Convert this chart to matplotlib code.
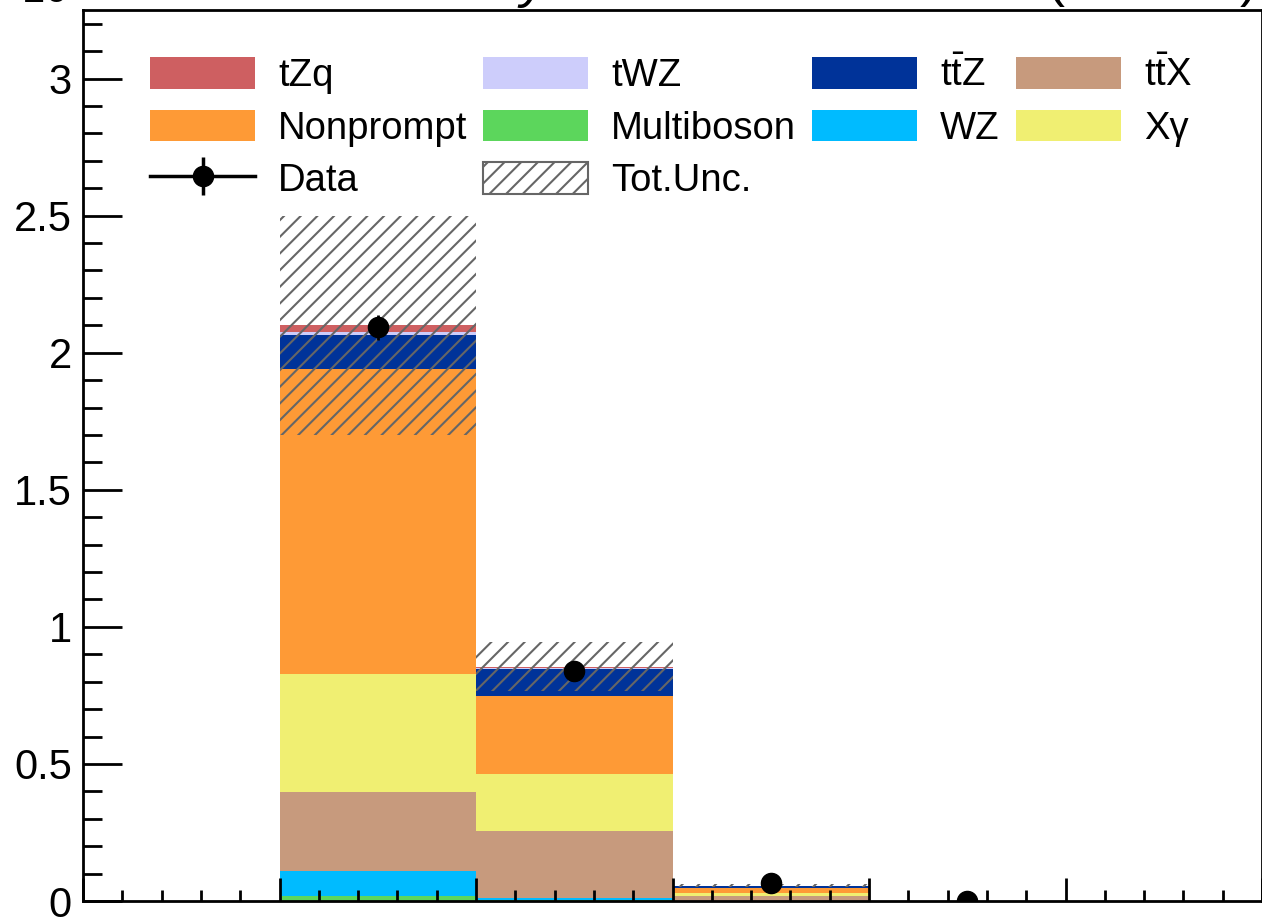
import numpy as np
import matplotlib
matplotlib.use("Agg")
from matplotlib import pyplot as plt
from matplotlib.patches import Patch
from matplotlib.ticker import MultipleLocator, NullFormatter

plt.rcParams['font.family'] = ['Liberation Sans', 'DejaVu Sans']
plt.rcParams['mathtext.fontset'] = 'custom'
plt.rcParams['mathtext.rm'] = 'Liberation Sans'
plt.rcParams['mathtext.it'] = 'Liberation Sans:italic'
plt.rcParams['hatch.linewidth'] = 1.5

# bins 0..6, values in units of 10^3 events
edges = np.arange(0, 7)
multiboson = [0, 0.018, 0.002, 0.0005, 0, 0]
wz = [0, 0.091, 0.010, 0.001, 0, 0]
ttx = [0, 0.288, 0.243, 0.018, 0, 0]
xgamma = [0, 0.431, 0.208, 0.009, 0.001, 0]
nonprompt = [0, 1.112, 0.284, 0.020, 0, 0]
ttz = [0, 0.124, 0.098, 0.006, 0, 0]
twz = [0, 0.011, 0.004, 0.0005, 0, 0]
tzq = [0, 0.025, 0.006, 0.001, 0, 0]
tot_unc = [0, 0.40, 0.088, 0.005, 0.0005, 0]
data = [0, 2.093, 0.838, 0.066, 0.001, 0]

stack = [
    ("Multiboson", multiboson, "#5cd65c"),
    ("WZ", wz, "#00bbff"),
    (r"t$\bar{\mathrm{t}}$X", ttx, "#c79a7d"),
    ("Xγ", xgamma, "#f0ef72"),
    ("Nonprompt", nonprompt, "#fe9a36"),
    (r"t$\bar{\mathrm{t}}$Z", ttz, "#003399"),
    ("tWZ", twz, "#cdcdfb"),
    ("tZq", tzq, "#ce5f61"),
]

fig = plt.figure(figsize=(12.62, 9.21), dpi=100)
ax = fig.add_axes([83 / 1262, 20 / 921, 1 - 83 / 1262, 891 / 921])

left = edges[:-1]
bottom = np.zeros(len(left))
handles = {}
for name, vals, col in stack:
    vals = np.array(vals)
    b = ax.bar(left, vals, width=1, bottom=bottom, align='edge',
               color=col, linewidth=0, label=name)
    handles[name] = b
    bottom = bottom + vals

total = bottom
unc = np.array(tot_unc)
ax.bar(left, 2 * unc, width=1, bottom=total - unc, align='edge',
       fill=False, hatch='//', edgecolor='#666666', linewidth=0, zorder=3)
handles["Tot.Unc."] = Patch(facecolor='white', edgecolor='#666666',
                            hatch='//', linewidth=1.5)

data = np.array(data)
centers = left + 0.5
m = data > 0
ax.errorbar(centers[m], data[m], yerr=np.sqrt(data[m] * 1000) / 1000,
            fmt='o', color='black', ms=14.5, elinewidth=2, capsize=0, zorder=4)
dh = ax.errorbar([], [], yerr=[], fmt='-o', color='black', ms=14.5,
                 lw=2.5, elinewidth=2.5, capsize=0)
handles["Data"] = dh

ax.set_xlim(0, 6)
ax.set_ylim(0, 3.25)
ax.xaxis.set_major_locator(MultipleLocator(1))
ax.xaxis.set_minor_locator(MultipleLocator(0.2))
ax.yaxis.set_major_locator(MultipleLocator(0.5))
ax.yaxis.set_minor_locator(MultipleLocator(0.1))
ax.xaxis.set_major_formatter(NullFormatter())
ax.yaxis.set_major_formatter(matplotlib.ticker.FuncFormatter(
    lambda v, p: ('%g' % v)))
ax.tick_params(axis='y', which='major', direction='in', length=28, width=2,
               labelsize=30, pad=8)
ax.tick_params(axis='y', which='minor', direction='in', length=14, width=2)
ax.tick_params(axis='x', which='major', direction='in', length=16.5, width=2)
ax.tick_params(axis='x', which='minor', direction='in', length=8, width=2)
for s in ax.spines.values():
    s.set_linewidth(2)

order = ["tZq", "Nonprompt", "Data", "tWZ", "Multiboson", "Tot.Unc.",
         r"t$\bar{\mathrm{t}}$Z", "WZ", r"t$\bar{\mathrm{t}}$X", "Xγ"]
ax.legend([handles[k] for k in order], order, ncol=4, frameon=False,
          loc='upper left', bbox_to_anchor=(150 / 1262, 1 - 57 / 921),
          bbox_transform=fig.transFigure, fontsize=27.5, borderpad=0,
          borderaxespad=0, handlelength=2.75, handleheight=0.9,
          handletextpad=0.6, columnspacing=0.42, labelspacing=0.4)

fig.text(-3 / 1262, 1 - 3 / 921, r"×10$^{3}$", fontsize=30, ha='left',
         va='baseline')
fig.text(140 / 1262, 1 + 3 / 921, "CMS", fontsize=39, fontweight='bold',
         ha='left', va='baseline')
fig.text(548 / 1262, 1 + 3 / 921, "Preliminary", fontsize=39,
         fontstyle='italic', ha='right', va='baseline')
fig.text(1256 / 1262, 1 + 3 / 921, r"138 fb$^{-1}$ (13 TeV)", fontsize=39,
         ha='right', va='baseline')

fig.savefig("out.png", dpi=100)
